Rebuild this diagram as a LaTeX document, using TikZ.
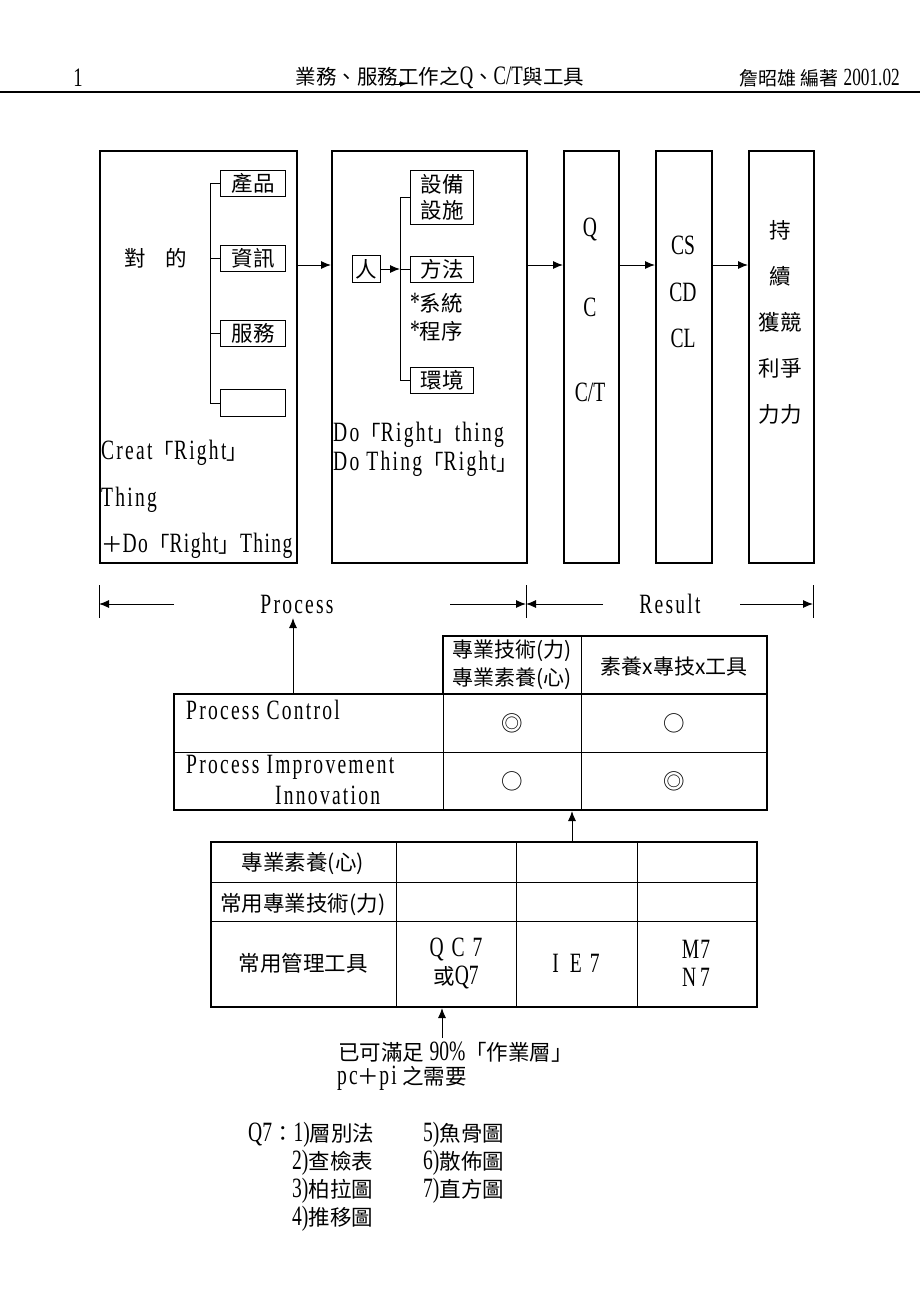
\documentclass[tikz,border=0pt]{standalone}
\usepackage{fontspec}
\setmainfont{Liberation Serif}
\newfontfamily\cj{Noto Sans CJK TC}
\newfontfamily\lr[FakeStretch=0.7,Scale=1.3]{Liberation Serif}
\newfontfamily\lm[FakeStretch=0.7,Scale=1.3,LetterSpace=8]{Liberation Serif}
\newfontfamily\lmn[FakeStretch=0.7,Scale=1.3,LetterSpace=5]{Liberation Serif}
\usetikzlibrary{arrows.meta}
\begin{document}
\begin{tikzpicture}[x=1pt,y=-1pt,
  txt/.style={inner sep=0pt, font=\fontsize{21.5}{28}\selectfont, align=center},
  hdr/.style={inner sep=0pt, font=\fontsize{20.5}{24}\selectfont},
  big/.style={draw, line width=1.6pt, inner sep=0pt, anchor=north west},
  sm/.style={draw, line width=1pt, inner sep=0pt, font=\fontsize{21.5}{27}\selectfont, align=center},
  ln/.style={line width=1pt},
  arr/.style={line width=1pt, -{Latex[length=10pt,width=8pt]}},
  thk/.style={line width=2.2pt},
  thn/.style={line width=0.9pt}]
\useasboundingbox (0,0) rectangle (920,1302);
\fill[white] (0,0) rectangle (920,1302);

% header
\node[hdr] (pg) at (78,78) {\lr 1};
\node[hdr] (title) at (440,78) {{\cj 業務、服務工作之}{\lr Q}{\cj 、}{\lr C/T}{\cj 與工具}};
\node[hdr, anchor=east, font=\fontsize{19}{22}\selectfont] (auth) at (900,78) {{\cj 詹昭雄 編著} {\lr 2001.02}};
\coordinate (ha) at (386,84); \coordinate (hb) at (406,84);
\draw[line width=0.8pt, -{Latex[length=6pt,width=6pt]}] (ha) -- (hb);
\coordinate (hl) at (0,92); \coordinate (hr) at (920,92);
\draw[line width=1.5pt] (hl) -- (hr);

% big boxes
\node[big, minimum width=197pt, minimum height=412pt] (b1) at (99,150) {};
\node[big, minimum width=195pt, minimum height=412pt] (b2) at (331,150) {};
\node[big, minimum width=55pt, minimum height=412pt] (b3) at (563,150) {};
\node[big, minimum width=56pt, minimum height=412pt] (b4) at (655,150) {};
\node[big, minimum width=65pt, minimum height=412pt] (b5) at (748,150) {};

% box 1 content
\node[sm, minimum width=65pt, minimum height=26pt] (prod) at (253,183) {\cj 產品};
\node[sm, minimum width=65pt, minimum height=26pt] (info) at (253,258) {\cj 資訊};
\node[sm, minimum width=65pt, minimum height=26pt] (serv) at (253,333) {\cj 服務};
\node[sm, minimum width=65pt, minimum height=27pt] (blank) at (253,403) {};
\draw[ln] (prod.west) -- ++(-10,0) coordinate (s1) |- (blank.west);
\draw[ln] (info.west) -- ++(-10,0);
\draw[ln] (serv.west) -- ++(-10,0);
\node[txt] (dui) at (156,258) {\cj 對\hspace{20pt}的};
\node[txt, anchor=west] (cr1) at (101,453) {{\lm Creat}{\cj 「}{\lm Right}{\cj 」}};
\node[txt, anchor=west] (cr2) at (101,500) {\lm Thing};
\node[txt, anchor=west] (cr3) at (101,546) {{\cj ＋}{\lmn Do}{\cj 「}{\lmn Right}{\cj 」}{\lmn Thing}};

% box 2 content
\node[sm, minimum width=28pt, minimum height=27pt] (ren) at (366,269) {\cj 人};
\node[sm, minimum width=63pt, minimum height=54pt] (sb) at (442,197) {\cj 設備\\[-1pt]\cj 設施};
\node[sm, minimum width=63pt, minimum height=26pt] (ff) at (442,269) {\cj 方法};
\node[sm, minimum width=63pt, minimum height=26pt] (hj) at (442,380) {\cj 環境};
\draw[ln] (sb.west) -- ++(-10,0) coordinate (s2) |- (hj.west);
\coordinate (ffj) at ([xshift=-10pt]ff.west);
\draw[ln] (ffj) -- (ff.west);
\draw[arr] (ren.east) -- (ffj);
\node[txt, anchor=west] (xt) at (410,303) {{\lr *}{\cj 系統}};
\node[txt, anchor=west] (cx) at (410,331) {{\lr *}{\cj 程序}};
\node[txt, anchor=west] (do1) at (333,435) {{\lm Do}{\cj 「}{\lm Right}{\cj 」}{\lm thing}};
\node[txt, anchor=west] (do2) at (333,464) {{\lm Do Thing}{\cj 「}{\lm Right}{\cj 」}};

% box 3-5 content
\node[txt] (q) at (590,230) {\lr Q};
\node[txt] (c) at (590,307) {\lr C};
\node[txt] (ct) at (590,392) {\lr C/T};
\node[txt] (cs) at (683,245) {\lr CS};
\node[txt] (cd) at (683,292) {\lr CD};
\node[txt] (cl) at (683,338) {\lr CL};
\node[txt] (k1) at (780,230) {\cj 持};
\node[txt] (k2) at (780,276) {\cj 續};
\node[txt] (k3) at (780,322) {\cj 獲競};
\node[txt] (k4) at (780,368) {\cj 利爭};
\node[txt] (k5) at (780,414) {\cj 力力};

% arrows between boxes
\coordinate (ay) at (0,265);
\draw[arr] (b1.east |- ay) -- (b2.west |- ay);
\draw[arr] (b2.east |- ay) -- (b3.west |- ay);
\draw[arr] (b3.east |- ay) -- (b4.west |- ay);
\draw[arr] (b4.east |- ay) -- (b5.west |- ay);

% process / result row
\coordinate (t1a) at (99,585); \coordinate (t1b) at (99,618);
\coordinate (t2a) at (526,585); \coordinate (t2b) at (526,618);
\coordinate (t3a) at (813,585); \coordinate (t3b) at (813,618);
\draw[thn] (t1a) -- (t1b); \draw[thn] (t2a) -- (t2b); \draw[thn] (t3a) -- (t3b);
\node[txt] (proc) at (297,604) {\lm Process};
\node[txt] (res) at (670,604) {\lm Result};
\coordinate (pl) at (99,604); \coordinate (pls) at (174,604);
\coordinate (pm) at (526,604); \coordinate (pms) at (450,604);
\coordinate (rls) at (603,604); \coordinate (rrs) at (740,604);
\coordinate (pr) at (813,604);
\draw[arr] (pls) -- (pl);
\draw[arr] (pms) -- (pm);
\draw[arr] (rls) -- (pm);
\draw[arr] (rrs) -- (pr);

% table 1
\draw[thk] (174,694) rectangle (767,810);
\draw[thk] (443,636) rectangle (767,694);
\draw[thn] (443,694) -- (443,810);
\draw[thn] (581,636) -- (581,810);
\draw[thn] (174,752) -- (767,752);
\coordinate (pcup) at (293,694);
\draw[arr] (pcup) -- (293,618);
\node[txt, font=\fontsize{21}{28}\selectfont] (h1) at (512,665) {\cj 專業技術(力)\\\cj 專業素養(心)};
\node[txt, font=\fontsize{21}{28}\selectfont] (h2) at (674,667) {\cj 素養x專技x工具};
\node[txt, anchor=west] (pc) at (186,710) {\lm Process Control};
\node[txt, anchor=west] (pi) at (186,767) {\lm Process Improvement};
\node[txt, anchor=west] (inn) at (275,795) {\lm Innovation};
\node[txt] (m11) at (512,723) {\cj ◎};
\node[txt] (m12) at (674,723) {\cj ○};
\node[txt] (m21) at (512,781) {\cj ○};
\node[txt] (m22) at (674,781) {\cj ◎};

% table 2
\draw[thk] (211,842) rectangle (757,1007);
\draw[thn] (396,842) -- (396,1007);
\draw[thn] (516,842) -- (516,1007);
\draw[thn] (637,842) -- (637,1007);
\draw[thn] (211,882) -- (757,882);
\draw[thn] (211,921) -- (757,921);
\coordinate (t2top) at (572,842); \coordinate (t1bot) at (572,811);
\draw[arr] (t2top) -- (t1bot);
\node[txt] (r1) at (303,864) {\cj 專業素養(心)};
\node[txt] (r2) at (303,905) {\cj 常用專業技術(力)};
\node[txt] (r3) at (303,963) {\cj 常用管理工具};
\node[txt] (qc7) at (456,949) {\lr Q\hspace{8pt}C\hspace{8pt}7};
\node[txt] (orq7) at (456,977) {{\cj 或}{\lr Q7}};
\node[txt] (ie7) at (576,963) {\lr I\hspace{11pt}E\hspace{8pt}7};
\node[txt] (m7) at (696,949) {\lr M\hspace{1pt}7};
\node[txt] (n7) at (696,977) {\lr N\hspace{4pt}7};

% bottom notes
\node[txt, anchor=west] (n1) at (338,1052) {{\cj 已可滿足} {\lr 90\%}{\cj 「作業層」}};
\node[txt, anchor=west] (n2) at (337,1078) {{\lm pc}{\cj ＋}{\lm pi} {\cj 之需要}};
\coordinate (nup) at (442,1038); \coordinate (t2bot) at (442,1008);
\draw[arr] (nup) -- (t2bot);

\node[txt, anchor=west] (l1) at (248,1135) {{\lr Q7}{\cj ：}{\lr 1)}{\cj 層別法}};
\node[txt, anchor=west] (l2) at (292,1163) {{\lr 2)}{\cj 查檢表}};
\node[txt, anchor=west] (l3) at (292,1191) {{\lr 3)}{\cj 柏拉圖}};
\node[txt, anchor=west] (l4) at (292,1219) {{\lr 4)}{\cj 推移圖}};
\node[txt, anchor=west] (l5) at (423,1135) {{\lr 5)}{\cj 魚骨圖}};
\node[txt, anchor=west] (l6) at (423,1163) {{\lr 6)}{\cj 散佈圖}};
\node[txt, anchor=west] (l7) at (423,1191) {{\lr 7)}{\cj 直方圖}};
\end{tikzpicture}
\end{document}
